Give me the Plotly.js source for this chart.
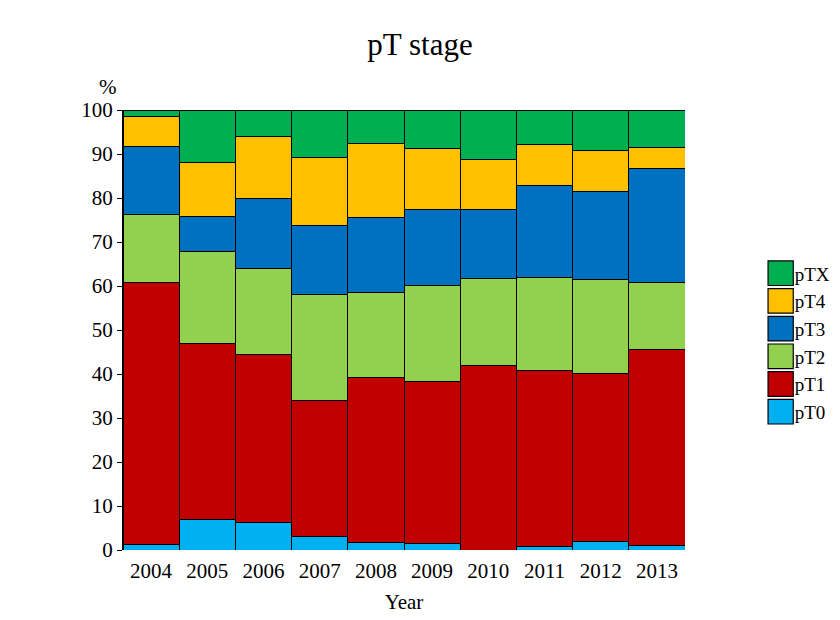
<!DOCTYPE html>
<html>
<head>
<meta charset="utf-8">
<script src="https://cdn.plot.ly/plotly-3.0.1.min.js"></script>
<style>body{margin:0;background:#fff;}#chart{width:840px;height:620px;}</style>
</head>
<body>
<div id="chart"></div>
<script>
var years = ['2004','2005','2006','2007','2008','2009','2010','2011','2012','2013'];
var seriesNames = ['pT0','pT1','pT2','pT3','pT4','pTX'];
var seriesColors = ['#00B0F0','#C00000','#92D050','#0070C0','#FFC000','#00B050'];
var pT0 = [1.3, 7.0, 6.3, 3.0, 1.7, 1.5, 0.0, 0.8, 2.0, 1.0];
var pT1 = [59.4, 39.9, 38.1, 31.0, 37.5, 36.8, 41.9, 40.0, 38.1, 44.5];
var pT2 = [15.5, 20.9, 19.5, 24.0, 19.3, 21.8, 19.8, 21.1, 21.3, 15.2];
var pT3 = [15.4, 7.9, 15.9, 15.7, 17.0, 17.2, 15.8, 20.9, 20.0, 25.9];
var pT4 = [7.0, 12.3, 14.1, 15.6, 17.0, 13.9, 11.2, 9.3, 9.3, 4.8];
var pTX = [1.4, 12.0, 6.1, 10.7, 7.5, 8.8, 11.3, 7.9, 9.3, 8.6];
var seriesValues = [pT0, pT1, pT2, pT3, pT4, pTX];

var font = 'Liberation Serif, Times New Roman, serif';
var traces = seriesNames.map(function(n, i){
  return {
    type: 'bar', name: n, x: years, y: seriesValues[i],
    marker: {color: seriesColors[i], line: {color: '#000', width: 1}},
    hoverinfo: 'name+y'
  };
});

var layout = {
  width: 840, height: 620,
  margin: {l: 123, r: 155, t: 110, b: 70, autoexpand: false},
  paper_bgcolor: '#fff', plot_bgcolor: '#fff',
  barmode: 'stack', bargap: 0,
  font: {family: font, size: 21, color: '#000'},
  title: {text: 'pT stage', font: {family: font, size: 31, color: '#000'}, x: 0.5, xanchor: 'center', y: 0.928, yanchor: 'middle'},
  xaxis: {
    title: {text: 'Year', font: {family: font, size: 21}, standoff: 12},
    type: 'category', range: [-0.5, 9.5],
    showline: false, ticks: 'outside', ticklen: 2, tickcolor: 'rgba(0,0,0,0)', showgrid: false, zeroline: false,
    tickfont: {family: font, size: 21}
  },
  yaxis: {
    range: [0, 100], dtick: 10, tick0: 0,
    showline: true, linecolor: '#000', linewidth: 1,
    ticks: 'outside', ticklen: 5, tickcolor: '#000', tickwidth: 1,
    showgrid: false, zeroline: false,
    tickfont: {family: font, size: 21}
  },
  legend: {
    xref: 'container', yref: 'container',
    x: 0.8984, xanchor: 'left', y: 0.447, yanchor: 'middle',
    traceorder: 'reversed', itemwidth: 30,
    font: {family: font, size: 19, color: '#000'},
    tracegroupgap: 0, bgcolor: 'rgba(0,0,0,0)'
  },
  annotations: [{
    text: '%', xref: 'paper', yref: 'paper', x: -0.027, y: 1.0, yshift: 23,
    xanchor: 'center', yanchor: 'middle', showarrow: false,
    font: {family: font, size: 21, color: '#000'}
  }]
};

Plotly.newPlot('chart', traces, layout, {displayModeBar: false, staticPlot: true}).then(function(gd){
  var paths = gd.querySelectorAll('.legend .legendpoints path');
  paths.forEach(function(p){
    p.setAttribute('transform', 'translate(26,0) scale(2.1,2.05)');
    p.setAttribute('vector-effect', 'non-scaling-stroke');
    p.style.stroke = '#000';
    p.style.strokeWidth = '1.2px';
  });
});
</script>
</body>
</html>
